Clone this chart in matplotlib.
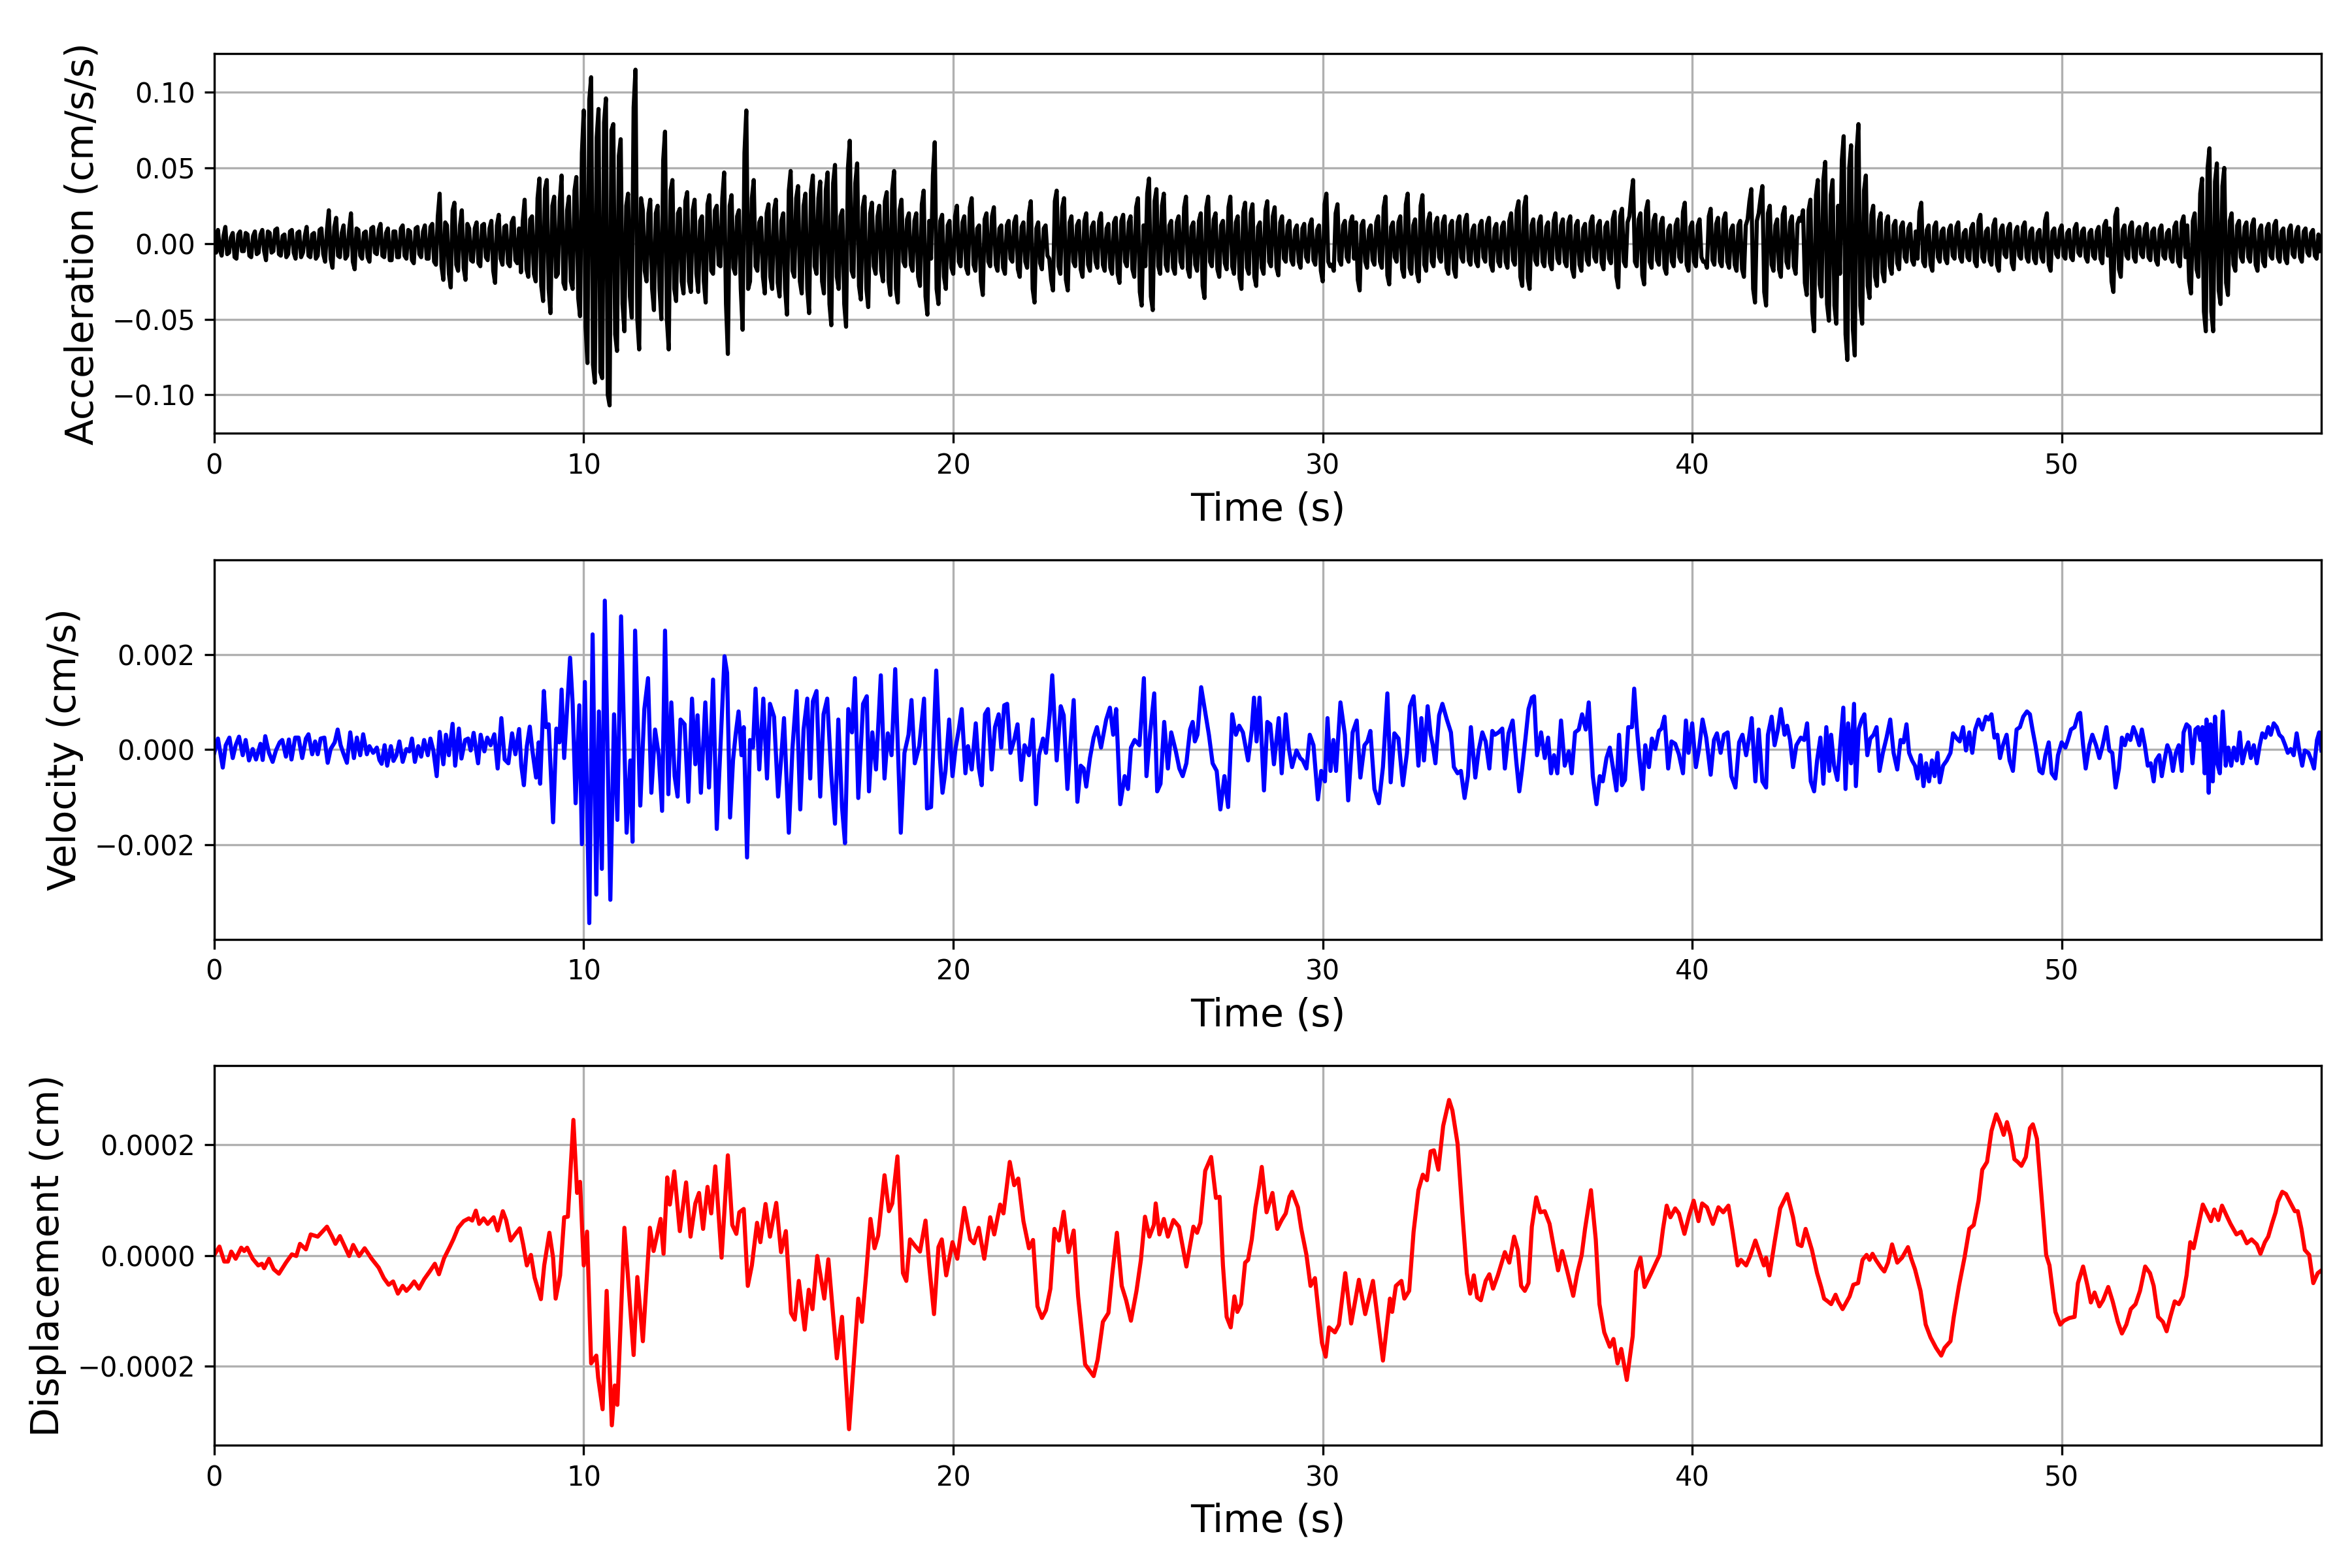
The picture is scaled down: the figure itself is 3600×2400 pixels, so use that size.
import numpy as np
import matplotlib
matplotlib.use('Agg')
import matplotlib.pyplot as plt

# acceleration, sampled every 0.05 s, in units of 1e-3 cm/s/s (one line per second)
acc_dt = 0.05
acc_milli = [
    2, -6, 9, -4, -8, 5, 11, -7, -6, 4, 7, -9, -10, 6, 8, -5, -5, 7, 6, -8,
    -9, 5, 8, -7, -6, 6, 9, -5, -11, 8, 7, -6, -5, 9, 10, -7, -8, 5, 6, -9,
    -7, 8, 9, -6, -10, 7, 8, -9, -6, 5, 11, -8, -9, 6, 7, -10, -8, 9, 10, -7,
    -12, 9, 22, -10, -16, 11, 17, -8, -9, 7, 12, -10, -8, 9, 20, -12, -17, 10, 9, -8,
    -10, 7, 8, -9, -12, 10, 11, -6, -7, 9, 13, -8, -9, 7, 10, -11, -11, 8, 8, -9,
    -9, 10, 12, -8, -10, 9, 8, -11, -13, 10, 11, -7, -9, 8, 12, -10, -10, 11, 13, -12,
    -14, 18, 33, -15, -24, 14, 12, -20, -29, 22, 27, -14, -18, 12, 22, -16, -24, 13, 10, -11,
    -12, 10, 14, -13, -15, 12, 13, -9, -11, 10, 15, -18, -26, 12, 19, -10, -14, 11, 12, -13,
    -15, 14, 17, -11, -13, 10, -19, 15, 29, -17, -22, 16, 18, -20, -25, 30, 43, -28, -38, 36,
    42, -30, -46, 25, 31, -22, -20, 28, 45, -26, -30, 22, 31, -25, -30, 35, 44, -36, -48, 60,
    88, -55, -79, 95, 110, -80, -92, 70, 89, -85, -89, 80, 96, -100, -107, 75, 79, -60, -71, 58,
    69, -40, -58, 25, 33, -35, -49, 90, 115, -50, -70, 30, 22, -18, -25, 20, 29, -30, -44, 20,
    25, -30, -50, 55, 74, -50, -70, 35, 42, -30, -38, 20, 23, -25, -33, 28, 34, -25, -32, 22,
    29, -20, -32, 15, 18, -25, -39, 26, 32, -18, -20, 22, 25, -14, -15, 30, 47, -40, -73, 25,
    32, -16, -20, 18, 22, -30, -57, 60, 88, -30, -25, 30, 42, -15, -18, 14, 17, -22, -33, 20,
    26, -22, -30, 22, 29, -26, -35, 15, 20, -30, -47, 35, 48, -18, -22, 30, 38, -25, -33, 25,
    33, -30, -46, 35, 45, -15, -20, 30, 41, -25, -33, 35, 47, -40, -54, 40, 52, -22, -30, 18,
    22, -40, -55, 50, 68, -18, -22, 40, 53, -28, -37, 24, 31, -30, -42, 20, 27, -15, -20, 18,
    25, -18, -25, 28, 34, -25, -34, 36, 48, -30, -39, 22, 29, -12, -15, 16, 20, -14, -18, 15,
    20, -22, -28, 26, 35, -35, -47, 15, -10, 45, 67, -30, -40, 15, 19, -22, -30, 12, 15, -16,
    -20, 18, 25, -12, -15, 14, 18, -16, -20, 24, 30, -14, -18, 10, 12, -25, -34, 16, 20, -12,
    -15, 18, 24, -14, -18, 10, 12, -16, -20, 12, 15, -10, -12, 14, 18, -17, -22, 11, 14, -12,
    -16, 20, 28, -30, -39, 10, 14, -13, -17, 10, 12, -8, -10, -24, -31, 28, 35, -15, -20, 24,
    30, -24, -31, 14, 18, -12, -15, 12, 15, -17, -22, 15, 20, -14, -18, 11, 14, -12, -16, 15,
    20, -14, -18, 10, 13, -16, -20, 14, 17, -20, -26, 15, 19, -12, -15, 14, 18, -17, -22, 24,
    30, -32, -41, 12, -15, 33, 43, -35, -44, 28, 36, -15, -20, 25, 33, -14, -18, 12, 15, -16,
    -20, 14, 18, -12, -16, 24, 31, -17, -22, 11, 14, -14, -18, 15, 20, -28, -36, 24, 31, -12,
    -15, 16, 20, -17, -22, 12, 15, -13, -17, 24, 31, -15, -20, 14, 18, -23, -30, 21, 27, -16,
    -20, 20, 26, -22, -28, 11, 14, -16, -20, 22, 28, -12, -15, 18, 24, -16, -21, 14, 18, -10,
    -12, 12, 15, -11, -14, 9, 12, -12, -16, 10, 13, -9, -12, 12, 16, -11, -14, 9, 12, -18,
    -25, 26, 33, -12, -15, -14, -18, 20, 26, -11, -14, 12, 15, -9, -12, 14, 18, -10, 14, -24,
    -31, 12, 15, -12, -16, 9, 12, -11, -14, 14, 18, -12, -16, 24, 31, -21, -27, 11, 14, -9,
    -12, 14, 18, -17, -22, 26, 33, -16, -20, 12, 16, -19, -25, 25, 32, -14, -18, 15, 20, -12,
    -15, 13, 17, -9, -12, 14, 18, -16, -20, 12, 15, -17, -22, 14, 18, -9, -12, 15, 19, -11,
    -14, 9, 12, -12, -15, 12, 15, -9, -12, 13, 17, -14, -18, 10, 13, -12, -15, 11, 14, -12,
    -16, 15, 20, -11, -14, 22, 28, -22, -28, 24, 31, -23, -30, 12, 16, -11, -14, 14, 18, -12,
    -15, 11, 14, -13, -17, 15, 20, -10, -13, 12, 16, -12, -15, 14, 18, -17, -22, 12, 15, -14,
    -18, 10, 13, -11, -14, 14, 18, -9, -12, 12, 15, -13, -17, 11, 14, -10, -13, 16, 21, -22,
    -29, 18, 23, -12, -15, 14, 18, 32, 42, -12, -15, 16, 20, -21, -27, 22, 28, -12, -16, 15,
    19, -11, -14, 13, 17, -16, -20, 9, 12, -12, -15, 12, 16, -9, -12, 21, 27, -14, -18, 11,
    14, -12, -15, 12, 16, -9, -12, -12, -16, 18, 23, -11, -14, 13, 17, -12, -15, 16, 20, -12,
    -16, 9, 12, -14, -18, 12, 15, -17, -22, 12, 16, 28, 36, -30, -39, 15, 20, 30, 38, -32,
    -41, 20, 25, -14, -18, 12, 16, -17, -22, 19, 24, -12, -16, 14, 18, -15, -20, 13, 17, 15,
    22, -26, -34, 22, 29, -45, -58, 32, 42, -27, -35, 42, 54, -40, -51, 32, 42, -41, -53, 25,
    -20, 55, 71, -60, -77, 50, 65, -57, -74, 61, 79, -41, -53, 35, 45, -28, -36, 19, 25, -22,
    -28, 15, 20, -19, -25, 14, 18, -15, -20, 12, 15, -13, -17, 11, 14, -9, -12, 10, 13, -11,
    -14, 8, -10, 21, 27, -12, -15, 9, 12, -14, -18, 11, 14, -9, -12, 8, 10, -10, -13, 9,
    12, -8, -10, 11, 14, -9, -12, 7, 9, -9, -11, 10, 13, -12, -15, 15, 19, -9, -12, 8,
    10, -11, -14, 12, 16, -14, -18, 9, 12, -7, -9, 10, 13, -13, -17, 8, 11, -8, -10, 11,
    14, -9, -12, 8, 10, -10, -13, 7, 9, -9, -12, 15, 20, -14, -18, 8, 10, -7, -9, 9,
    12, -8, -10, 7, 9, -9, -11, 10, 13, -6, -8, 8, 10, -9, -12, 7, 9, -8, -10, 8,
    11, -10, -13, 12, 15, -8, 10, -25, -32, 18, 23, -17, -22, 9, 12, -8, -10, 11, 14, -9,
    -12, 9, 11, -7, -9, 10, 13, -9, -11, 8, 10, -11, -14, 9, 12, -8, -10, 7, 9, -9,
    -12, 11, 14, -12, -15, 14, 18, -9, 12, -25, -33, 15, 20, -17, -22, 33, 43, -45, -58, 50,
    63, -45, -58, 41, 53, -31, -40, 38, 50, -26, -34, 15, 20, -14, -18, 12, 15, -9, -12, 11,
    14, -9, -12, 12, 16, -14, -18, 9, 12, -12, -15, 10, 13, -8, -10, 12, 15, -9, -12, 8,
    10, -10, -13, 9, 12, -7, -9, 8, 11, -9, -12, 8, 10, -6, -8, 7, 9, -8, -10, 6,
    -5,
]

# velocity turning points: time (s) and value in units of 1e-5 cm/s
vel_t = [
    0.0, 0.1, 0.23, 0.31, 0.41, 0.5, 0.58, 0.67, 0.77, 0.85, 0.94, 1.04, 1.13, 1.25, 1.31, 1.38,
    1.48, 1.58, 1.67, 1.77, 1.84, 1.94, 2.02, 2.09, 2.19, 2.28, 2.38, 2.48, 2.55, 2.65, 2.73, 2.8,
    2.88, 2.98, 3.07, 3.15, 3.26, 3.34, 3.42, 3.49, 3.59, 3.68, 3.78, 3.86, 3.95, 4.03, 4.13, 4.2,
    4.3, 4.4, 4.47, 4.53, 4.61, 4.68, 4.78, 4.85, 4.93, 5.01, 5.1, 5.2, 5.28, 5.35, 5.43, 5.52,
    5.6, 5.68, 5.78, 5.85, 5.93, 6.02, 6.1, 6.2, 6.27, 6.35, 6.45, 6.52, 6.62, 6.69, 6.79, 6.87,
    6.94, 7.02, 7.14, 7.21, 7.31, 7.39, 7.48, 7.58, 7.67, 7.77, 7.86, 7.96, 8.06, 8.15, 8.25, 8.31,
    8.38, 8.46, 8.54, 8.61, 8.71, 8.78, 8.82, 8.92, 8.98, 9.05, 9.17, 9.26, 9.34, 9.4, 9.47, 9.63,
    9.7, 9.78, 9.88, 9.95, 10.03, 10.15, 10.24, 10.34, 10.41, 10.49, 10.57, 10.72, 10.82, 10.91,
    11.01, 11.16, 11.26, 11.32, 11.39, 11.53, 11.64, 11.74, 11.83, 11.93, 12.03, 12.12, 12.2,
    12.29, 12.37, 12.46, 12.54, 12.62, 12.73, 12.83, 12.93, 13.02, 13.08, 13.17, 13.29, 13.39,
    13.5, 13.6, 13.69, 13.81, 13.88, 13.96, 14.04, 14.11, 14.19, 14.27, 14.33, 14.42, 14.5, 14.58,
    14.65, 14.75, 14.86, 14.96, 15.04, 15.15, 15.26, 15.34, 15.42, 15.55, 15.65, 15.76, 15.86,
    15.95, 16.05, 16.13, 16.2, 16.3, 16.4, 16.49, 16.59, 16.7, 16.8, 16.89, 16.99, 17.07, 17.16,
    17.26, 17.34, 17.43, 17.56, 17.66, 17.72, 17.81, 17.91, 18.04, 18.14, 18.23, 18.33, 18.43,
    18.58, 18.68, 18.79, 18.87, 18.96, 19.08, 19.21, 19.29, 19.4, 19.54, 19.64, 19.71, 19.79,
    19.89, 19.98, 20.06, 20.15, 20.23, 20.33, 20.4, 20.5, 20.61, 20.69, 20.77, 20.86, 20.94, 21.04,
    21.13, 21.23, 21.3, 21.38, 21.46, 21.55, 21.65, 21.74, 21.84, 21.93, 22.05, 22.15, 22.24,
    22.32, 22.43, 22.51, 22.61, 22.68, 22.8, 22.91, 22.99, 23.09, 23.18, 23.26, 23.36, 23.45,
    23.53, 23.6, 23.7, 23.8, 23.89, 24.0, 24.14, 24.24, 24.33, 24.41, 24.52, 24.64, 24.73, 24.81,
    24.91, 25.04, 25.16, 25.23, 25.33, 25.44, 25.52, 25.61, 25.71, 25.81, 25.9, 26.02, 26.12,
    26.21, 26.31, 26.41, 26.48, 26.54, 26.61, 26.71, 26.83, 26.92, 27.02, 27.13, 27.23, 27.34,
    27.44, 27.55, 27.65, 27.74, 27.84, 27.98, 28.08, 28.14, 28.21, 28.29, 28.41, 28.5, 28.58,
    28.68, 28.81, 28.89, 29.0, 29.08, 29.17, 29.29, 29.39, 29.46, 29.56, 29.65, 29.75, 29.87,
    29.96, 30.06, 30.13, 30.21, 30.29, 30.36, 30.48, 30.6, 30.69, 30.81, 30.92, 31.02, 31.13,
    31.21, 31.29, 31.4, 31.52, 31.63, 31.75, 31.84, 31.94, 32.05, 32.17, 32.28, 32.36, 32.46,
    32.53, 32.59, 32.67, 32.74, 32.84, 32.92, 32.98, 33.05, 33.15, 33.24, 33.36, 33.47, 33.55,
    33.65, 33.74, 33.84, 33.93, 34.01, 34.13, 34.22, 34.32, 34.41, 34.51, 34.59, 34.66, 34.76,
    34.86, 34.93, 35.03, 35.14, 35.24, 35.32, 35.39, 35.49, 35.57, 35.66, 35.72, 35.8, 35.91,
    36.01, 36.1, 36.18, 36.26, 36.35, 36.45, 36.55, 36.66, 36.74, 36.83, 36.93, 37.02, 37.12,
    37.2, 37.31, 37.41, 37.5, 37.58, 37.68, 37.77, 37.87, 37.95, 38.02, 38.1, 38.18, 38.27,
    38.37, 38.43, 38.5, 38.56, 38.66, 38.73, 38.83, 38.91, 39.0, 39.1, 39.17, 39.25, 39.35,
    39.44, 39.54, 39.64, 39.75, 39.83, 39.9, 40.0, 40.1, 40.19, 40.28, 40.38, 40.5, 40.59,
    40.67, 40.77, 40.86, 40.96, 41.06, 41.17, 41.27, 41.36, 41.46, 41.54, 41.61, 41.71, 41.8,
    41.9, 42.0, 42.05, 42.15, 42.23, 42.32, 42.4, 42.5, 42.57, 42.65, 42.73, 42.82, 42.94,
    43.03, 43.11, 43.21, 43.3, 43.38, 43.47, 43.55, 43.63, 43.71, 43.76, 43.84, 43.93, 44.03,
    44.09, 44.15, 44.22, 44.3, 44.38, 44.43, 44.51, 44.59, 44.66, 44.74, 44.82, 44.91, 44.99,
    45.07, 45.16, 45.26, 45.36, 45.45, 45.55, 45.64, 45.72, 45.8, 45.87, 45.95, 46.03, 46.1,
    46.18, 46.26, 46.33, 46.41, 46.49, 46.56, 46.64, 46.7, 46.79, 46.89, 46.99, 47.06, 47.16,
    47.24, 47.33, 47.41, 47.5, 47.58, 47.66, 47.75, 47.85, 47.95, 48.02, 48.1, 48.18, 48.26,
    48.33, 48.41, 48.51, 48.59, 48.68, 48.78, 48.87, 48.96, 49.06, 49.14, 49.21, 49.29, 49.4,
    49.48, 49.56, 49.65, 49.73, 49.83, 49.9, 50.0, 50.1, 50.17, 50.25, 50.35, 50.45, 50.5,
    50.58, 50.65, 50.75, 50.83, 50.93, 51.02, 51.11, 51.21, 51.29, 51.37, 51.46, 51.55, 51.63,
    51.71, 51.78, 51.86, 51.94, 52.02, 52.1, 52.17, 52.25, 52.33, 52.41, 52.49, 52.55, 52.64,
    52.71, 52.78, 52.86, 52.94, 53.01, 53.09, 53.17, 53.25, 53.3, 53.38, 53.46, 53.54, 53.62,
    53.69, 53.75, 53.81, 53.87, 53.92, 53.98, 54.03, 54.09, 54.15, 54.21, 54.28, 54.36, 54.44,
    54.51, 54.59, 54.66, 54.74, 54.82, 54.89, 54.97, 55.05, 55.12, 55.2, 55.28, 55.36, 55.43,
    55.51, 55.59, 55.66, 55.74, 55.82, 55.89, 55.97, 56.05, 56.12, 56.2, 56.28, 56.36, 56.43,
    56.51, 56.58, 56.68, 56.76, 56.83, 56.91, 56.97, 57.03,
]
vel_v = [
    -7, 23, -38, 9, 25, -18, 9, 27, -12, 20, -23, 1, -21, 12, -22, 28,
    -7, -26, -2, 15, 20, -15, 21, -21, 25, 25, -18, 23, 32, -10, 17, -10,
    23, 25, -28, 1, 15, 42, 9, -7, -28, 36, -18, 25, -12, 32, -10, 7,
    -7, 4, -22, -30, 9, -34, 7, -24, -12, 17, -26, 1, -4, 23, -26, 7,
    -15, 20, -12, 23, -2, -56, 37, -31, 31, -12, 54, -34, 44, -19, 20, 23,
    -2, 35, -29, 31, -4, 25, 9, 32, -40, 66, -21, -29, 34, -10, 43, -34,
    -75, 7, 48, -2, -59, 15, -72, 123, 47, 53, -153, 44, 15, 126, -18, 193,
    96, -113, 93, -199, 142, -365, 242, -305, 80, -251, 313, -316, 74, -148,
    280, -175, -23, -194, 250, -118, 85, 150, -91, 42, -12, -129, 250,
    -94, 99, -56, -99, 63, 53, -110, 107, -31, 72, -91, 99, -80,
    147, -167, -12, 196, 161, -143, -23, 31, 80, -12, 47, -227, 20, 4,
    128, -42, 107, -61, 96, 69, -99, -21, 66, -175, 4, 123, -126,
    42, 107, -61, 101, 123, -99, 74, 107, -53, -156, 63, -121, -197, 85,
    36, 150, -102, 96, 112, -88, 36, -42, 156, -61, 34, -12, 169,
    -175, -7, 31, 104, -29, 7, 107, -124, -121, 166, -18, -91, -45,
    63, -56, 1, 42, 85, -50, 7, -42, 55, -37, -75, 74, 85, -42,
    47, 74, 4, 93, 96, -7, 20, 53, -64, 9, -12, 63, -115,
    -12, 23, -7, 74, 156, -23, 91, 72, -83, 20, 104, -110, -34,
    -40, -78, -18, 25, 47, 4, 63, 88, 31, 85, -115, -56, -83, 4,
    20, 9, 150, -56, 36, 118, -88, -72, 58, -40, 36, -2, -40,
    -56, -29, 42, 58, 17, 31, 131, 74, 31, -29, -45, -126, -56,
    -121, 74, 31, 50, 36, -23, 42, 109, 17, 109, -86, 58, 53,
    -31, 66, -50, 74, 4, -37, -2, -18, -23, -40, 31, 9, -105,
    -45, -67, 66, -45, 20, -45, 99, 31, -107, 36, 61, -59, 9,
    17, 39, -83, -113, -37, 118, -69, 34, 23, -75, -7, 91, 112,
    42, -34, 66, -23, 91, 31, 9, -29, 72, 96, 63, 36, -37,
    -50, -45, -102, -56, 47, -59, -2, 36, 17, -40, 39, 31, 36,
    44, -40, 34, 61, -26, -88, -45, 25, 85, 109, 112, -12, 36,
    -18, 25, -50, -12, -50, 61, -34, -4, -50, 36, 42, 74, 42,
    99, -56, -115, -56, -67, -18, 4, -45, -86, 31, -75, -64, 47,
    47, 128, 47, -7, -83, 9, -37, 23, 1, 39, 44, 69, -40,
    17, 12, -10, -50, 61, -7, 55, -37, 4, 63, 25, -53, 20,
    34, -7, 31, 36, -56, -80, 15, 31, -12, 25, 66, -67, 42,
    -67, -80, 31, 69, 9, 42, 85, 31, 50, 20, -37, 9, 25,
    20, 55, -67, -88, -23, 25, -72, 47, -45, 31, -34, -64, 31,
    88, -83, 55, -29, 96, -77, 44, 63, 74, -12, 23, 31, 47,
    -45, -7, 25, 63, -7, -42, 20, 15, 53, -7, -23, -34, -61,
    -12, -77, -29, -67, -23, -56, -7, -69, -34, -23, -7, 34, 23,
    17, 47, -2, 36, -7, 42, 63, 42, 69, 63, 74, 25, 31,
    -18, 9, 31, -23, -45, 42, 47, 69, 80, 74, 42, 9, -45,
    -50, -12, 15, -50, -61, -12, 15, 4, 20, 42, 47, 74, 77,
    9, -40, 9, 31, 9, -18, 9, 47, -2, -7, -80, -40, 25,
    9, 31, 20, 47, 31, 9, 42, 9, -34, -29, -67, -23, -12,
    -56, -23, 9, -7, -45, -7, 9, -45, 36, 53, 47, -29, 42,
    47, 20, 47, -50, 63, -91, 53, -67, 69, -29, -50, 80, -34,
    4, -34, 4, -23, 36, -29, -2, 15, -18, 9, -29, 9, 34,
    25, 47, 31, 55, 47, 31, 25, 9, -7, 1, -12, 34, -2,
    -34, -2, -7, -23, -40, 20, 36, -2,
]

# displacement turning points: time (s) and value in units of 1e-6 cm
disp_t = [
    0.0, 0.14, 0.27, 0.37, 0.46, 0.58, 0.73, 0.81, 0.89, 1.04, 1.19, 1.29, 1.35, 1.48, 1.61,
    1.75, 1.94, 2.1, 2.22, 2.32, 2.48, 2.61, 2.8, 3.05, 3.19, 3.28, 3.4, 3.49, 3.65, 3.76,
    3.92, 4.07, 4.26, 4.45, 4.59, 4.72, 4.84, 4.97, 5.1, 5.2, 5.3, 5.41, 5.54, 5.68, 5.83,
    5.97, 6.08, 6.22, 6.37, 6.47, 6.6, 6.75, 6.89, 6.98, 7.08, 7.17, 7.29, 7.4, 7.56, 7.67,
    7.81, 7.9, 8.02, 8.14, 8.27, 8.36, 8.46, 8.57, 8.67, 8.84, 8.93, 9.07, 9.17, 9.24, 9.36,
    9.47, 9.57, 9.72, 9.82, 9.9, 10.0, 10.09, 10.2, 10.34, 10.39, 10.51, 10.62, 10.76, 10.84,
    10.91, 11.1, 11.24, 11.35, 11.45, 11.6, 11.79, 11.89, 12.08, 12.16, 12.26, 12.33, 12.45,
    12.6, 12.77, 12.89, 13.02, 13.12, 13.23, 13.35, 13.45, 13.56, 13.73, 13.9, 14.02, 14.13,
    14.21, 14.33, 14.44, 14.55, 14.69, 14.78, 14.92, 15.04, 15.21, 15.34, 15.47, 15.61, 15.71,
    15.82, 15.98, 16.09, 16.19, 16.32, 16.51, 16.62, 16.85, 16.99, 17.18, 17.43, 17.53, 17.64,
    17.76, 17.87, 17.97, 18.14, 18.26, 18.35, 18.49, 18.64, 18.73, 18.83, 18.97, 19.1, 19.25,
    19.35, 19.48, 19.6, 19.69, 19.81, 19.98, 20.11, 20.3, 20.46, 20.56, 20.69, 20.84, 21.0,
    21.11, 21.27, 21.36, 21.53, 21.65, 21.76, 21.9, 22.05, 22.16, 22.28, 22.4, 22.51, 22.63,
    22.74, 22.86, 22.99, 23.12, 23.26, 23.38, 23.57, 23.8, 23.91, 24.05, 24.2, 24.3, 24.43,
    24.56, 24.68, 24.81, 24.96, 25.08, 25.19, 25.31, 25.43, 25.48, 25.58, 25.7, 25.81, 25.96,
    26.11, 26.31, 26.5, 26.6, 26.69, 26.82, 26.98, 27.11, 27.21, 27.3, 27.4, 27.51, 27.61,
    27.69, 27.79, 27.9, 27.98, 28.08, 28.18, 28.27, 28.35, 28.48, 28.64, 28.77, 28.89, 29.0,
    29.1, 29.17, 29.33, 29.42, 29.56, 29.67, 29.79, 29.9, 29.98, 30.08, 30.17, 30.33, 30.44,
    30.61, 30.77, 30.98, 31.15, 31.36, 31.63, 31.82, 31.88, 31.98, 32.13, 32.21, 32.34, 32.46,
    32.59, 32.71, 32.82, 32.92, 33.01, 33.13, 33.26, 33.42, 33.51, 33.65, 33.78, 33.9, 33.99,
    34.09, 34.18, 34.28, 34.41, 34.51, 34.61, 34.74, 34.93, 35.05, 35.18, 35.28, 35.37, 35.47,
    35.57, 35.66, 35.78, 35.89, 36.01, 36.14, 36.24, 36.37, 36.48, 36.62, 36.78, 36.89, 37.01,
    37.1, 37.26, 37.39, 37.49, 37.62, 37.77, 37.87, 37.98, 38.08, 38.23, 38.39, 38.48, 38.6,
    38.71, 38.89, 39.02, 39.12, 39.21, 39.31, 39.41, 39.54, 39.64, 39.79, 39.92, 40.04, 40.17,
    40.27, 40.4, 40.56, 40.71, 40.84, 40.98, 41.09, 41.23, 41.32, 41.46, 41.57, 41.71, 41.84,
    41.94, 42.0, 42.09, 42.23, 42.38, 42.57, 42.73, 42.86, 42.96, 43.07, 43.24, 43.38, 43.49,
    43.57, 43.67, 43.76, 43.88, 43.95, 44.07, 44.17, 44.26, 44.36, 44.49, 44.61, 44.72, 44.8,
    44.88, 44.97, 45.11, 45.2, 45.3, 45.41, 45.55, 45.68, 45.84, 45.93, 46.03, 46.18, 46.32,
    46.45, 46.6, 46.74, 46.83, 46.99, 47.08, 47.22, 47.37, 47.5, 47.62, 47.75, 47.85, 47.98,
    48.1, 48.23, 48.33, 48.43, 48.52, 48.62, 48.72, 48.81, 48.91, 49.03, 49.14, 49.22, 49.33,
    49.44, 49.58, 49.67, 49.83, 49.96, 50.06, 50.21, 50.35, 50.44, 50.58, 50.7, 50.79, 50.89,
    51.02, 51.12, 51.26, 51.38, 51.52, 51.63, 51.75, 51.87, 52.0, 52.12, 52.26, 52.39, 52.49,
    52.61, 52.74, 52.84, 52.94, 53.06, 53.17, 53.28, 53.38, 53.48, 53.57, 53.71, 53.82, 53.94,
    54.04, 54.13, 54.24, 54.34, 54.47, 54.57, 54.73, 54.86, 55.01, 55.14, 55.28, 55.38, 55.5,
    55.59, 55.69, 55.79, 55.85, 55.97, 56.07, 56.2, 56.31, 56.39, 56.49, 56.58, 56.7, 56.81,
    56.93, 57.03,
]
disp_v = [
    1, 16, -11, -11, 7, -6, 14, 8, 14, -6, -18, -15, -23, -6, -25,
    -33, -13, 2, -1, 21, 11, 38, 34, 52, 34, 21, 35, 22, -1, 19,
    -1, 13, -6, -22, -41, -53, -47, -69, -55, -64, -57, -47, -60, -43, -29,
    -15, -34, -5, 15, 29, 50, 62, 67, 63, 81, 57, 67, 57, 69, 45,
    80, 64, 27, 38, 49, 20, -18, 1, -40, -79, -18, 41, -4, -78, -36,
    69, 70, 245, 113, 133, -18, 43, -195, -181, -221, -278, -64, -307, -235,
    -270, 50, -78, -180, -39, -155, 50, 8, 66, 3, 141, 92, 152,
    44, 132, 34, 94, 113, 48, 124, 76, 161, -4, 181, 55, 39,
    78, 84, -55, -18, 59, 24, 93, 34, 95, 6, 44, -104, -116,
    -46, -134, -62, -97, -1, -78, -7, -186, -111, -314, -78, -120, -36,
    66, 13, 36, 145, 80, 94, 179, -32, -46, 29, 17, 7, 63,
    -18, -106, 15, 29, -36, 24, -6, 86, 29, 22, 50, -6, 69,
    38, 92, 76, 169, 127, 139, 62, 13, 28, -92, -113, -99, -60,
    48, 27, 79, 6, 45, -74, -197, -218, -188, -120, -104, -36, 41,
    -55, -81, -118, -64, -8, 70, 34, 55, 94, 38, 66, 34, 64,
    52, -20, 52, 41, 59, 153, 178, 104, 106, -18, -111, -130, -74,
    -102, -88, -13, -8, 29, 87, 122, 160, 78, 113, 48, 64, 76,
    106, 115, 87, 48, 1, -55, -41, -111, -158, -183, -130, -139, -125,
    -32, -123, -44, -106, -46, -190, -78, -102, -55, -46, -78, -64, 43,
    118, 146, 136, 188, 190, 155, 234, 281, 262, 202, 76, -32, -69,
    -36, -76, -81, -46, -34, -60, -36, 6, -13, 34, 10, -55, -64,
    -50, 52, 105, 78, 80, 57, 20, -27, 8, -29, -73, -32, 1,
    48, 118, 29, -88, -139, -165, -151, -195, -169, -225, -146, -29, -4,
    -57, -32, -13, 1, 48, 90, 69, 85, 76, 39, 73, 99, 62,
    94, 87, 57, 87, 78, 90, 45, -18, -8, -18, -1, 27, 1,
    -18, -4, -36, 24, 85, 111, 69, 20, 17, 48, 10, -32, -57,
    -78, -83, -88, -71, -83, -97, -85, -74, -53, -50, -8, 1, -8,
    3, -8, -22, -29, -13, 20, -13, -4, 15, -6, -25, -64, -125,
    -148, -167, -181, -167, -155, -111, -55, -4, 48, 55, 99, 155, 169,
    225, 255, 239, 218, 241, 216, 174, 169, 162, 178, 230, 237, 211,
    118, 1, -18, -102, -125, -118, -113, -111, -50, -20, -55, -85, -67,
    -92, -81, -57, -83, -120, -141, -125, -97, -88, -64, -20, -32, -55,
    -111, -120, -137, -111, -83, -88, -74, -36, 24, 13, 57, 92, 76,
    62, 83, 64, 90, 71, 57, 38, 43, 22, 29, 20, 3, 24,
    34, 57, 78, 97, 115, 111, 94, 80, 80, 48, 10, 1, -50,
    -32, -27,
]

acc = np.array(acc_milli) * 1e-3
t_acc = np.arange(len(acc)) * acc_dt
vel = np.array(vel_v) * 1e-5
disp = np.array(disp_v) * 1e-6

t_end = 57.03

fig, axes = plt.subplots(3, 1, figsize=(12, 8))
fig.subplots_adjust(left=0.0911, right=0.987, top=0.9657, bottom=0.0783, hspace=0.333)

panels = [
    (t_acc, acc, 'k', 'Acceleration (cm/s/s)', 0.1255, [-0.10, -0.05, 0.0, 0.05, 0.10]),
    (vel_t, vel, 'b', 'Velocity (cm/s)', 0.00399, [-0.002, 0.0, 0.002]),
    (disp_t, disp, 'r', 'Displacement (cm)', 0.000343, [-0.0002, 0.0, 0.0002]),
]

for ax, (x, y, c, lab, lim, ticks) in zip(axes, panels):
    ax.plot(x, y, color=c, linewidth=1.5)
    ax.set_xlim(0, t_end)
    ax.set_ylim(-lim, lim)
    ax.set_yticks(ticks)
    ax.grid(True)
    ax.set_xlabel('Time (s)', fontsize=14)
    ax.set_ylabel(lab, fontsize=14)

fig.savefig('out.png', dpi=300)
